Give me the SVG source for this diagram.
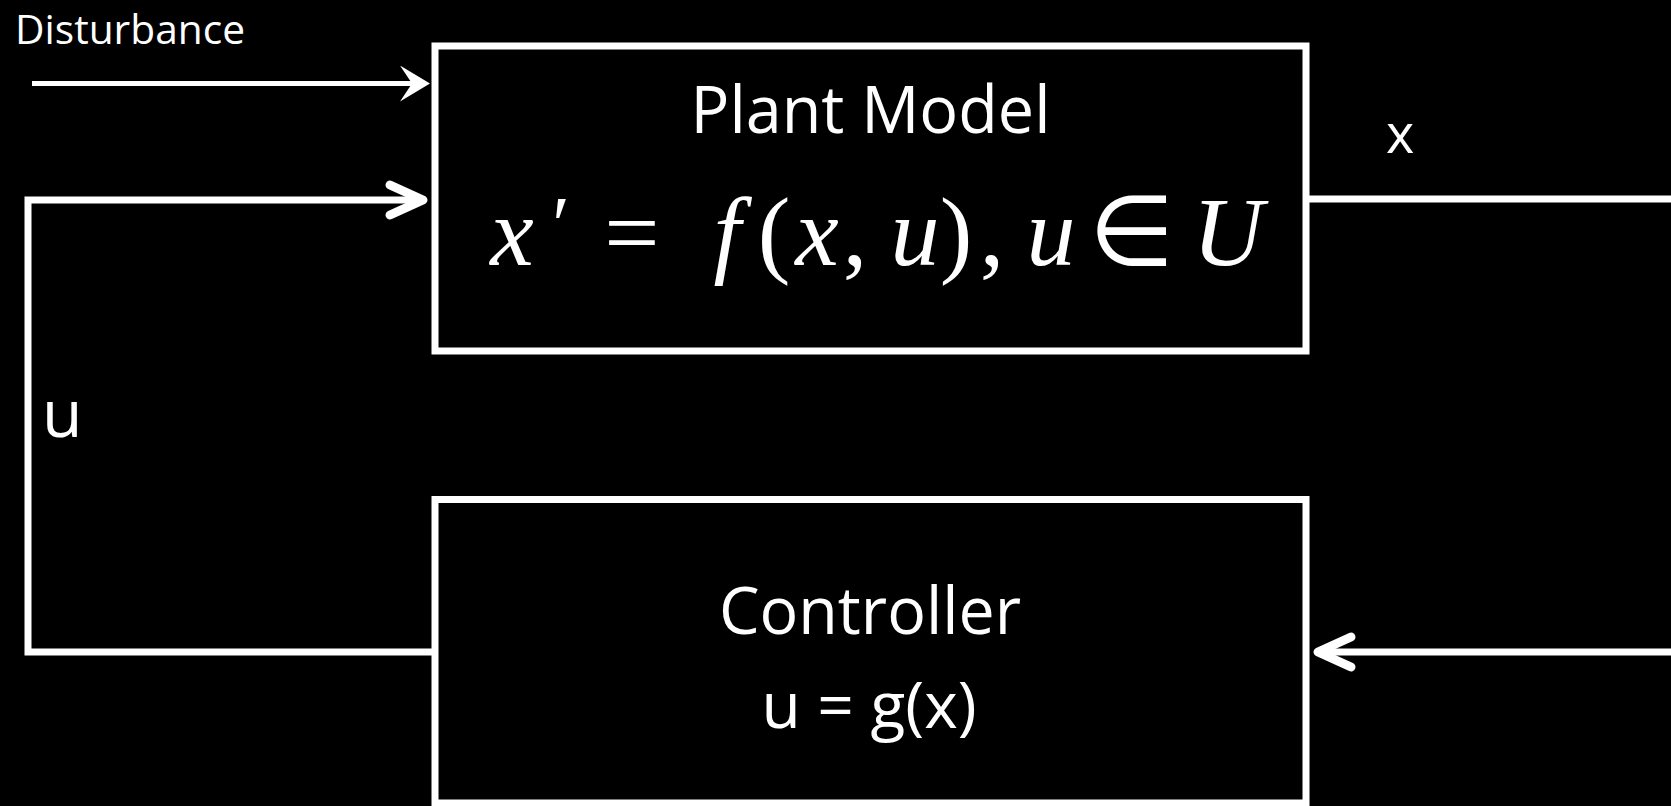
<svg xmlns="http://www.w3.org/2000/svg" width="1671" height="806" viewBox="0 0 1671 806">
<defs>
<marker id="stealth" markerUnits="userSpaceOnUse" viewBox="0 0 30 36" refX="25" refY="18" markerWidth="30" markerHeight="36" orient="auto">
<path d="M0,0 L30,18 L0,36 L12,18 Z" fill="#fff"/>
</marker>
<marker id="chev" markerUnits="userSpaceOnUse" viewBox="-45 -25 55 50" refX="0" refY="0" markerWidth="55" markerHeight="50" orient="auto">
<path d="M-33,-15 L0,0 L-33,15" fill="none" stroke="#fff" stroke-width="9" stroke-linecap="round" stroke-linejoin="round"/>
</marker>
</defs>
<rect x="0" y="0" width="1671" height="806" fill="#000"/>

<g id="connectors" fill="none" stroke="#fff" stroke-width="7">
<path stroke-width="5" d="M32,83.5 H425" marker-end="url(#stealth)"/>
<path d="M434,652 H28 V200 H423" marker-end="url(#chev)"/>
<path d="M1306,199 H1671"/>
<path d="M1671,652 H1318" marker-end="url(#chev)"/>
</g>

<g id="plant">
<rect x="435" y="46" width="871" height="305" fill="#000" stroke="#fff" stroke-width="7"/>
<text font-family="Liberation Serif" font-size="98" fill="#fff" text-anchor="middle" y="265"><tspan x="512" font-style="italic">x</tspan><tspan x="561" y="252" font-size="80">′</tspan><tspan x="632" y="265">=</tspan><tspan x="727" font-style="italic">f</tspan><tspan x="774">(</tspan><tspan x="817" font-style="italic">x</tspan><tspan x="855">,</tspan><tspan x="915" font-style="italic">u</tspan><tspan x="956">)</tspan><tspan x="992">,</tspan><tspan x="1051" font-style="italic">u</tspan><tspan x="1131">∈</tspan><tspan x="1228" font-style="italic">U</tspan></text>
<text font-family="Open Sans" fill="#fff" text-anchor="middle" x="870.5" y="133" font-size="66" textLength="360" lengthAdjust="spacingAndGlyphs">Plant Model</text>
</g>

<g id="controller">
<rect x="435" y="499.5" width="871" height="303.5" fill="#000" stroke="#fff" stroke-width="7"/>
<g font-family="Open Sans" fill="#fff" text-anchor="middle">
<text x="870" y="634" font-size="66" textLength="302" lengthAdjust="spacingAndGlyphs">Controller</text>
<text x="869" y="728" font-size="64" textLength="215" lengthAdjust="spacingAndGlyphs">u = g(x)</text>
</g>
</g>

<g id="labels" font-family="Open Sans" fill="#fff">
<text x="15" y="43.5" font-size="40" textLength="230" lengthAdjust="spacingAndGlyphs">Disturbance</text>
<text x="1386" y="152.5" font-size="54">x</text>
<text x="42" y="436.5" font-size="66">u</text>
</g>
</svg>
